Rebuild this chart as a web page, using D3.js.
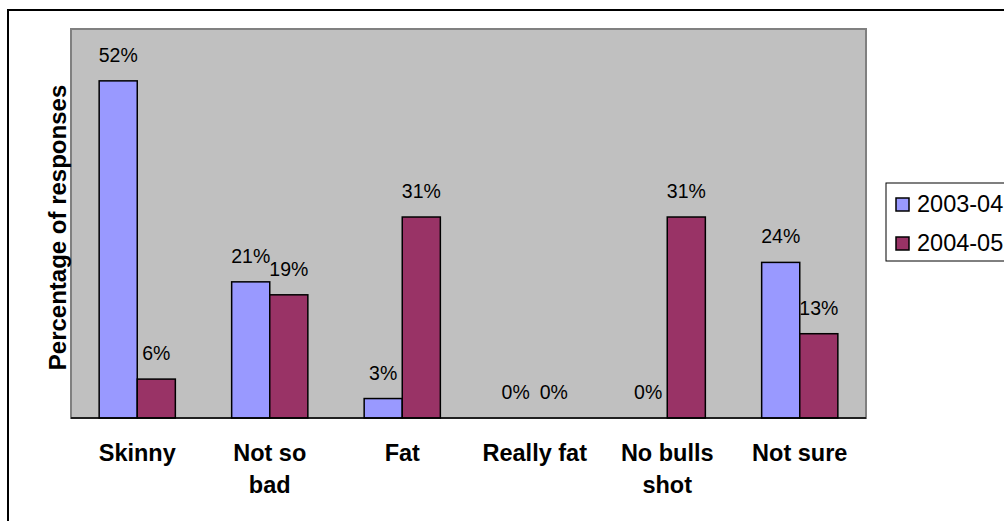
<!DOCTYPE html>
<meta charset="utf-8">
<style>
 body { margin: 0; background: #fff; }
 text { font-family: Arial, "Liberation Sans", sans-serif; fill: #000; }
 .val { font-size: 19.5px; }
 .cat { font-size: 23.5px; font-weight: bold; }
 .ytitle { font-size: 24px; font-weight: bold; }
 .leg { font-size: 23.5px; }
</style>
<body>
<script src="https://d3js.org/d3.v7.min.js"></script>
<script>
 // data
 var categories = ["Skinny", "Not so\nbad", "Fat", "Really fat", "No bulls\nshot", "Not sure"];
 var seriesNames = ["2003-04", "2004-05"];
 var values0304 = [52, 21, 3, 0, 0, 24];
 var values0405 = [6, 19, 31, 0, 31, 13];
 var colors = ["#9999ff", "#993366"];

 var W = 1004, H = 521;
 var plot = { left: 71, right: 866, top: 29, bottom: 418 };

 var svg = d3.select("body").append("svg")
   .attr("width", W)
   .attr("height", H);

 // outer chart frame (runs off the right and bottom edge)
 svg.append("rect")
   .attr("x", 8).attr("y", 10)
   .attr("width", W + 20).attr("height", H + 20)
   .attr("fill", "#fff")
   .attr("stroke", "#000")
   .attr("stroke-width", 2);

 // plot area
 svg.append("rect")
   .attr("x", plot.left).attr("y", plot.top)
   .attr("width", plot.right - plot.left)
   .attr("height", plot.bottom - plot.top)
   .attr("fill", "#c0c0c0")
   .attr("stroke", "#808080")
   .attr("stroke-width", 2);

 var x0 = d3.scaleBand()
   .domain(categories)
   .range([plot.left, plot.right])
   .paddingInner(0.425)
   .paddingOuter(0.2125);

 var x1 = d3.scaleBand()
   .domain(seriesNames)
   .range([0, x0.bandwidth()]);

 var y = d3.scaleLinear().domain([0, 60]).range([plot.bottom, plot.top]);

 var rows = categories.map(function (c, i) {
   return { cat: c, vals: [values0304[i], values0405[i]] };
 });

 var groups = svg.selectAll("g.grp")
   .data(rows)
   .enter().append("g")
   .attr("class", "grp")
   .attr("transform", function (d) { return "translate(" + x0(d.cat) + ",0)"; });

 var cells = groups.selectAll("g.cell")
   .data(function (d) {
     return d.vals.map(function (v, j) { return { s: seriesNames[j], v: v, j: j }; });
   })
   .enter().append("g").attr("class", "cell");

 cells.filter(function (d) { return d.v > 0; })
   .append("rect")
   .attr("x", function (d) { return x1(d.s); })
   .attr("y", function (d) { return y(d.v); })
   .attr("width", x1.bandwidth())
   .attr("height", function (d) { return y(0) - y(d.v); })
   .attr("fill", function (d) { return colors[d.j]; })
   .attr("stroke", "#000")
   .attr("stroke-width", 1.5);

 cells.append("text")
   .attr("class", "val")
   .attr("text-anchor", "middle")
   .attr("x", function (d) { return x1(d.s) + x1.bandwidth() / 2; })
   .attr("y", function (d) { return y(d.v) - 19; })
   .text(function (d) { return d.v + "%"; });

 // category axis line
 svg.append("line")
   .attr("x1", plot.left).attr("x2", plot.right)
   .attr("y1", plot.bottom).attr("y2", plot.bottom)
   .attr("stroke", "#000")
   .attr("stroke-width", 1.5);

 // category labels
 var cat = svg.selectAll("text.cat")
   .data(categories)
   .enter().append("text")
   .attr("class", "cat")
   .attr("text-anchor", "middle")
   .attr("y", 461);

 cat.selectAll("tspan")
   .data(function (d) {
     var cx = x0(d) + x0.bandwidth() / 2;
     return d.split("\n").map(function (t, i) { return { t: t, cx: cx, i: i }; });
   })
   .enter().append("tspan")
   .attr("x", function (d) { return d.cx; })
   .attr("dy", function (d) { return d.i === 0 ? 0 : 32; })
   .text(function (d) { return d.t; });

 // y axis title
 svg.append("text")
   .attr("class", "ytitle")
   .attr("text-anchor", "middle")
   .attr("transform", "translate(66," + ((plot.top + plot.bottom) / 2 + 4) + ") rotate(-90)")
   .text("Percentage of responses");

 // legend
 var leg = svg.append("g").attr("transform", "translate(886,183)");
 leg.append("rect")
   .attr("width", 140).attr("height", 78)
   .attr("fill", "#fff")
   .attr("stroke", "#000")
   .attr("stroke-width", 1);

 var items = leg.selectAll("g.item")
   .data(seriesNames)
   .enter().append("g")
   .attr("class", "item")
   .attr("transform", function (d, i) { return "translate(0," + (i * 39) + ")"; });

 items.append("rect")
   .attr("x", 10).attr("y", 15)
   .attr("width", 13).attr("height", 13)
   .attr("fill", function (d, i) { return colors[i]; })
   .attr("stroke", "#000")
   .attr("stroke-width", 1.5);

 items.append("text")
   .attr("class", "leg")
   .attr("x", 31).attr("y", 29)
   .text(function (d) { return d; });
</script>
</body>
